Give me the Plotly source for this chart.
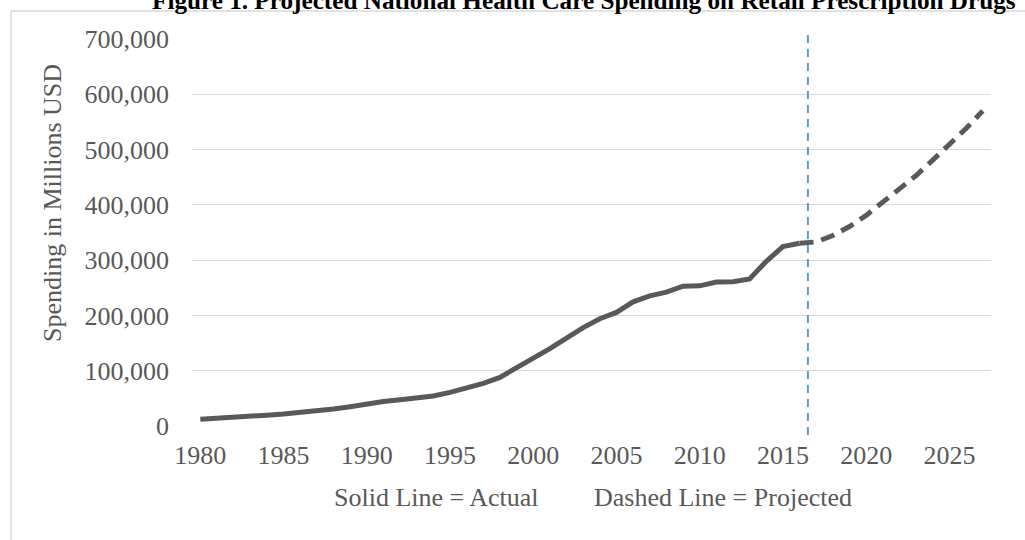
import plotly.graph_objects as go

# ---------------- data (millions USD) ----------------
actual_years = list(range(1980, 2017))
actual_values = [12000, 13400, 15000, 17300, 19600, 21800, 24300, 26900, 30600, 34800,
                 40300, 44400, 47400, 50600, 54200, 60800, 68400, 77100, 88000, 104600,
                 121500, 140000, 159000, 178000, 194000, 205500, 224500, 235500, 242000, 253000,
                 253500, 260500, 261000, 266000, 298000, 324500, 330500]
proj_years = list(range(2016, 2028))
proj_values = [330500, 333000, 344600, 360800, 381000, 405000, 428000, 453000,
               481000, 509000, 538000, 570000]
x_tick_years = [1980, 1985, 1990, 1995, 2000, 2005, 2010, 2015, 2020, 2025]
y_ticks = [0, 100000, 200000, 300000, 400000, 500000, 600000, 700000]
projection_boundary = 2016.5

title_text = "Figure 1. Projected National Health Care Spending on Retail Prescription Drugs"
y_title = "Spending in Millions USD"
note_actual = "Solid Line = Actual"
note_proj = "Dashed Line = Projected"

# ---------------- layout geometry ----------------
W, H = 1025, 540
L, R, T, B = 192, 34, 39, 114
FONT = "Liberation Serif, Times New Roman, serif"
GRAY = "#595959"
FS = 26


def px_x(x):
    return (x - L) / (W - L - R)


def px_y(y):
    return (H - B - y) / (H - T - B)


fig = go.Figure()
fig.add_trace(go.Scatter(x=proj_years, y=proj_values, mode="lines",
                         line=dict(color=GRAY, width=5, dash="14px,8px"),
                         hoverinfo="skip", showlegend=False))
fig.add_trace(go.Scatter(x=actual_years, y=actual_values, mode="lines",
                         line=dict(color=GRAY, width=5),
                         hoverinfo="skip", showlegend=False))

shapes = [
    # outer chart frame (left and top edges visible)
    dict(type="line", xref="paper", yref="paper", x0=px_x(11), x1=px_x(11),
         y0=px_y(11), y1=px_y(545), line=dict(color="#D9D9D9", width=1.5)),
    dict(type="line", xref="paper", yref="paper", x0=px_x(11), x1=px_x(1030),
         y0=px_y(11), y1=px_y(11), line=dict(color="#D9D9D9", width=1.5)),
    # projection boundary
    dict(type="line", xref="x", yref="paper", x0=projection_boundary, x1=projection_boundary,
         y0=px_y(435), y1=px_y(33), line=dict(color="#5B9BD5", width=2, dash="8px,6px")),
]

annotations = [
    dict(text="<b>" + title_text + "</b>", xref="paper", yref="paper",
         x=px_x(584), y=px_y(1), xanchor="center", yanchor="middle", showarrow=False,
         font=dict(family=FONT, size=25.2, color="black")),
    dict(text=y_title, xref="paper", yref="paper", x=px_x(52), y=px_y(203),
         xanchor="center", yanchor="middle", textangle=-90, showarrow=False,
         font=dict(family=FONT, size=FS, color=GRAY)),
    dict(text=note_actual, xref="paper", yref="paper", x=px_x(436), y=px_y(498),
         xanchor="center", yanchor="middle", showarrow=False,
         font=dict(family=FONT, size=FS, color=GRAY)),
    dict(text=note_proj, xref="paper", yref="paper", x=px_x(723), y=px_y(498),
         xanchor="center", yanchor="middle", showarrow=False,
         font=dict(family=FONT, size=FS, color=GRAY)),
]

fig.update_layout(
    width=W, height=H,
    margin=dict(l=L, r=R, t=T, b=B, pad=0),
    paper_bgcolor="white", plot_bgcolor="white",
    shapes=shapes, annotations=annotations,
    showlegend=False,
    font=dict(family=FONT, size=FS, color=GRAY),
    xaxis=dict(range=[1979.5, 2027.5], tickmode="array", tickvals=x_tick_years,
               ticktext=[str(v) for v in x_tick_years], showgrid=False, zeroline=False,
               showline=False, ticks="", ticklabelstandoff=11,
               tickfont=dict(family=FONT, size=FS, color=GRAY), fixedrange=True),
    yaxis=dict(range=[0, 700000], tickmode="array", tickvals=y_ticks,
               ticktext=[f"{v:,}" for v in y_ticks], showgrid=True,
               gridcolor="#D9D9D9", gridwidth=1.4, zeroline=False, showline=False,
               ticks="", ticklabelstandoff=22,
               tickfont=dict(family=FONT, size=FS, color=GRAY), fixedrange=True),
)

fig.write_html("out.html", config={"displayModeBar": False})
